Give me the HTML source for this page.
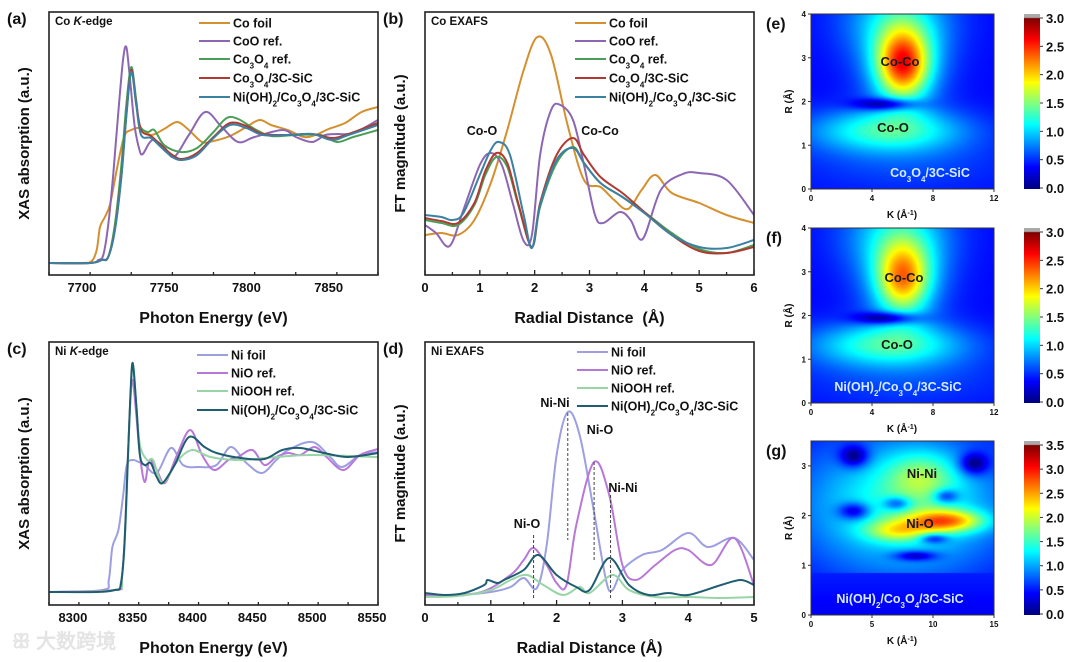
<!DOCTYPE html>
<html><head><meta charset="utf-8">
<style>
body{margin:0;background:#fff;width:1080px;height:662px;overflow:hidden;position:relative;font-family:"Liberation Sans",Arial,sans-serif}
svg{position:absolute;left:0;top:0;z-index:2}
canvas{position:absolute;z-index:1}
text{font-family:"Liberation Sans",Arial,sans-serif}
</style></head>
<body>
<svg id="fig" width="1080" height="662"></svg>
<canvas id="hmE" width="183" height="175" style="left:811px;top:14px"></canvas>
<canvas id="hmF" width="183" height="175" style="left:811px;top:228px"></canvas>
<canvas id="hmG" width="183" height="174" style="left:811px;top:441px"></canvas>
<canvas id="cbE" width="16" height="175" style="left:1024px;top:14px"></canvas>
<canvas id="cbF" width="16" height="175" style="left:1024px;top:228px"></canvas>
<canvas id="cbG" width="16" height="174" style="left:1024px;top:441px"></canvas>
<script>
// ---------- Panel (a) Co K-edge data ----------
const aCoFoilX=[7680,7700,7706,7709,7711,7714,7717,7720,7723,7726,7730,7735,7742,7750,7758,7765,7773,7780,7790,7800,7808,7815,7825,7835,7842,7850,7860,7870,7880];
const aCoFoilY=[12,12,14,25,48,58,70,95,120,140,145,147,140,146,153,145,133,134,139,148,155,150,145,138,140,146,152,163,168];
const aCoOX=[7680,7705,7710,7713,7716,7719,7722,7725,7727,7729,7732,7735,7737,7741,7744,7750,7756,7765,7775,7785,7795,7805,7822,7830,7840,7848,7855,7865,7880];
const aCoOY=[12,12,15,20,50,100,160,215,228,200,150,125,121,132,135,128,118,140,163,148,133,138,145,138,133,140,141,142,155];
const aCo3O4X=[7680,7705,7712,7716,7720,7724,7727,7730,7733,7735,7740,7744,7750,7760,7770,7780,7788,7795,7805,7815,7830,7845,7855,7865,7880];
const aCo3O4Y=[12,12,15,18,50,110,170,208,175,150,143,145,130,123,127,143,157,156,146,139,140,140,133,138,145];
const aCoSiCX=[7680,7705,7712,7716,7720,7724,7727,7730,7733,7736,7742,7748,7755,7761,7770,7780,7790,7800,7810,7825,7840,7852,7862,7880];
const aCoSiCY=[12,12,15,18,45,100,160,205,172,145,139,130,120,116,122,138,152,149,141,140,141,137,141,152];
const aNiCoSiCX=[7680,7705,7712,7716,7720,7724,7727,7730,7733,7736,7742,7748,7755,7761,7770,7780,7790,7800,7810,7825,7840,7852,7862,7880];
const aNiCoSiCY=[12,12,15,18,44,98,158,203,170,140,137,128,118,115,120,137,150,147,140,140,141,135,140,150];
// ---------- Panel (b) Co EXAFS data ----------
const bCoFoilX=[0,0.3,0.6,0.9,1.2,1.5,1.8,2.05,2.3,2.6,2.9,3.2,3.45,3.7,3.95,4.2,4.5,5.0,5.5,6.0];
const bCoFoilY=[40,42,40,55,92,145,205,238,220,150,95,88,75,66,85,100,82,72,60,52];
const bCoOX=[0,0.2,0.45,0.7,1.0,1.2,1.4,1.6,1.8,1.95,2.1,2.3,2.47,2.7,2.9,3.1,3.25,3.55,3.75,3.97,4.3,4.7,5.0,5.5,6.0];
const bCoOY=[50,42,29,65,110,122,110,72,34,40,120,165,170,155,110,60,52,63,55,36,85,101,102,95,60];
const bCo3O4X=[0,0.3,0.6,0.9,1.1,1.3,1.5,1.7,1.95,2.1,2.4,2.7,2.9,3.2,3.6,4.0,4.5,5.0,5.5,6.0];
const bCo3O4Y=[55,52,50,70,100,118,108,70,28,68,112,128,112,92,78,63,42,26,22,30];
const bCoSiCX=[0,0.3,0.6,0.9,1.1,1.3,1.5,1.7,1.95,2.1,2.4,2.7,2.9,3.2,3.6,4.0,4.5,5.0,5.5,6.0];
const bCoSiCY=[57,54,52,72,104,122,112,72,28,72,120,137,120,98,82,63,40,24,22,28];
const bNiCoSiCX=[0,0.3,0.5,0.7,1.0,1.2,1.35,1.55,1.8,1.95,2.1,2.4,2.7,2.9,3.2,3.6,4.0,4.5,5.0,5.5,6.0];
const bNiCoSiCY=[60,58,55,62,100,125,133,120,60,27,70,115,127,112,92,78,62,40,28,27,35];
// ---------- Panel (c) Ni K-edge data ----------
const cNiFoilX=[8280,8325,8330,8333,8338,8342,8345,8350,8355,8360,8370,8382,8392,8405,8420,8432,8445,8458,8470,8480,8500,8515,8525,8540,8555];
const cNiFoilY=[13,15,25,58,75,110,140,145,143,140,132,157,140,138,140,158,142,132,145,155,163,148,138,150,153];
const cNiOX=[8280,8335,8340,8343,8346,8348,8350,8353,8356,8360,8364,8370,8377,8387,8398,8408,8418,8430,8438,8450,8460,8470,8480,8490,8502,8512,8526,8540,8555];
const cNiOY=[13,15,22,60,150,205,225,190,150,123,145,135,122,150,175,150,135,145,148,155,140,148,152,150,158,148,135,150,156];
const cNiOOHX=[8280,8335,8341,8344,8347,8350,8353,8356,8362,8367,8375,8388,8400,8415,8440,8470,8500,8555];
const cNiOOHY=[13,15,30,80,180,240,200,160,145,145,122,145,155,148,145,148,150,148];
const cSampleX=[8280,8320,8335,8340,8343,8346,8348,8350,8353,8356,8360,8365,8370,8375,8385,8397,8410,8420,8440,8460,8475,8490,8510,8530,8555];
const cSampleY=[13,13,15,20,60,150,210,242,200,150,140,142,128,122,140,168,158,152,147,146,155,157,152,148,152];
// ---------- Panel (d) Ni EXAFS data ----------
const dNiFoilX=[0,0.5,1.0,1.3,1.5,1.7,1.85,2.0,2.17,2.35,2.55,2.75,2.85,3.0,3.3,3.6,4.0,4.3,4.7,5.0];
const dNiFoilY=[10,10,13,18,27,17,60,150,193,170,100,25,15,35,50,55,72,58,67,45];
const dNiOX=[0,0.8,1.3,1.5,1.65,1.85,2.0,2.15,2.3,2.57,2.8,3.0,3.2,3.5,3.8,4.0,4.35,4.7,5.0];
const dNiOY=[10,12,30,45,57,40,22,20,80,143,110,40,25,40,55,55,40,67,20];
const dNiOOHX=[0,0.5,1.0,1.3,1.55,1.8,2.1,2.35,2.5,2.85,3.1,3.5,4.0,4.5,5.0];
const dNiOOHY=[8,9,15,25,30,20,10,18,12,30,15,8,8,7,8];
const dSampleX=[0,0.3,0.6,0.9,0.95,1.1,1.2,1.5,1.72,2.0,2.3,2.5,2.8,3.1,3.4,3.7,4.0,4.5,4.8,5.0];
const dSampleY=[12,10,12,20,25,22,25,35,50,30,18,15,47,20,10,12,10,20,25,20];
// ---------- Wavelet heatmap components ----------
const eK=[5,6,6,6,5,5.5];const eR=[1.35,2.85,3.1,0.6,1.95,3.9];const eSk=[3.5,1.2,2.0,5,1.4,2.6];const eSr=[0.35,0.55,0.9,0.5,0.1,0.6];const eAmp=[0.9,1.7,0.6,0.2,-0.9,0.45];const eBase=0.4;
const fK=[5,6,6,6,5,5.5];const fR=[1.35,2.85,3.1,0.6,1.95,3.9];const fSk=[3.5,1.2,2.0,5,1.4,2.6];const fSr=[0.35,0.55,0.9,0.5,0.1,0.6];const fAmp=[0.9,1.35,0.6,0.2,-0.9,0.45];const fBase=0.4;
const gK=[7.5,11,7,9,3.5,13.3,3.5,7,11,10,8.5];const gR=[2.2,1.9,1.7,2.8,3.2,3.05,2.1,2.25,2.4,1.55,1.2];const gSk=[6,2.2,1.8,2.0,0.8,0.8,0.9,0.8,0.7,0.8,1.2];const gSr=[1.0,0.16,0.15,0.35,0.15,0.15,0.12,0.1,0.1,0.07,0.07];const gAmp=[1.1,1.6,0.9,0.7,-0.9,-0.9,-0.9,-0.8,-0.8,-0.8,-0.8];const gBase=0.4;

const NS='http://www.w3.org/2000/svg';
const svg=document.getElementById('fig');
function el(tag,attrs,parent){const e=document.createElementNS(NS,tag);for(const k in attrs)e.setAttribute(k,attrs[k]);(parent||svg).appendChild(e);return e;}
function txt(x,y,s,size,opts,parent){const t=el('text',Object.assign({x:x,y:y,'font-size':size,'font-weight':'bold',fill:'#111'},opts||{}),parent);t.innerHTML=s;return t;}
function smooth(pts){let d='M'+pts[0][0]+','+pts[0][1];for(let i=0;i<pts.length-1;i++){const p0=pts[Math.max(0,i-1)],p1=pts[i],p2=pts[i+1],p3=pts[Math.min(pts.length-1,i+2)];const c1x=p1[0]+(p2[0]-p0[0])/6,c1y=p1[1]+(p2[1]-p0[1])/6,c2x=p2[0]-(p3[0]-p1[0])/6,c2y=p2[1]-(p3[1]-p1[1])/6;d+=' C'+c1x.toFixed(1)+','+c1y.toFixed(1)+' '+c2x.toFixed(1)+','+c2y.toFixed(1)+' '+p2[0].toFixed(1)+','+p2[1].toFixed(1);}return d;}

function panel(cfg){
  const g=el('g',{});
  
  
  const sx=v=>cfg.L+(v-cfg.x0)/(cfg.x1-cfg.x0)*(cfg.R-cfg.L);
  const sy=v=>cfg.B-v/cfg.ymax*(cfg.B-cfg.T);
  const clip='clip-'+cfg.name;
  const cp=el('clipPath',{id:clip},g);el('rect',{x:cfg.L,y:cfg.T,width:cfg.R-cfg.L,height:cfg.B-cfg.T},cp);
  cfg.series.forEach(s=>{
    const pts=s.x.map((v,i)=>[sx(v),sy(s.y[i])]);
    const p=el('path',{d:smooth(pts),fill:'none',stroke:s.c,'stroke-width':s.w||2,'clip-path':'url(#'+clip+')'},g);
    
    
  });
  const fr=el('rect',{x:cfg.L,y:cfg.T,width:cfg.R-cfg.L,height:cfg.B-cfg.T,fill:'none',stroke:'#222','stroke-width':1.6},g);
  
  
  for(let v=cfg.x0;v<=cfg.x1+1e-9;v+=cfg.minor){
    const major=Math.abs(Math.round(v/cfg.major)*cfg.major-v)<1e-6;
    el('line',{x1:sx(v),x2:sx(v),y1:cfg.B,y2:cfg.B-(major?5:3),stroke:'#222','stroke-width':1.3},g);
  }
  cfg.ticks.forEach(v=>{const t=txt(sx(v),cfg.B+17,String(v),13,{'text-anchor':'middle'},g);});
  const xt=txt((cfg.L+cfg.R)/2,cfg.B+48,cfg.xtitle,16,{'text-anchor':'middle'},g);
  
  const yc=(cfg.T+cfg.B)/2;
  const yt=txt(cfg.L-20,yc,cfg.ytitle,15,{'text-anchor':'middle',transform:'rotate(-90 '+(cfg.L-20)+' '+yc+')'},g);
  
  const pl=txt(cfg.L-42,cfg.T+12,cfg.label,16,{},g);
  
  const st=txt(cfg.L+6,cfg.T+13,cfg.sub,11.5,{},g);
  
  cfg.series.forEach((s,i)=>{
    const y=cfg.legY[i];
    const lg=el('g',{},g);
    
    
    el('line',{x1:cfg.legX,x2:cfg.legX+31,y1:y,y2:y,stroke:s.c,'stroke-width':2},lg);
    txt(cfg.legX+34,y+4.5,s.lab,12.5,{},lg);
  });
  return {sx,sy,g};
}
const SUB=s=>'<tspan baseline-shift="sub" font-size="8">'+s+'</tspan>';
const co3o4='Co'+SUB('3')+'O'+SUB('4');
const nicocsic='Ni(OH)'+SUB('2')+'/'+co3o4+'/3C-SiC';
const cO='#d4902e',cP='#8d66b3',cG='#4a9e55',cR='#b03a32',cB='#3c80a2';

panel({name:'panel-a',L:49,R:378,T:12,B:275,x0:7680,x1:7880,ymax:263,major:50,minor:25,ticks:[7700,7750,7800,7850],
 xtitle:'Photon Energy (eV)',ytitle:'XAS absorption (a.u.)',label:'(a)',sub:'Co <tspan font-style="italic">K</tspan>-edge',legX:199,legY:[23,41,59,78,97],
 series:[{x:aCoFoilX,y:aCoFoilY,c:cO,n:'line-co-foil',lab:'Co foil'},{x:aCoOX,y:aCoOY,c:cP,n:'line-coo-ref',lab:'CoO ref.'},{x:aCo3O4X,y:aCo3O4Y,c:cG,n:'line-co3o4-ref',lab:co3o4+' ref.'},{x:aCoSiCX,y:aCoSiCY,c:cR,n:'line-co3o4-sic',lab:co3o4+'/3C-SiC'},{x:aNiCoSiCX,y:aNiCoSiCY,c:cB,n:'line-nioh-co3o4-sic',lab:nicocsic}]});
const pb=panel({name:'panel-b',L:425,R:754,T:12,B:275,x0:0,x1:6,ymax:263,major:1,minor:0.5,ticks:[0,1,2,3,4,5,6],
 xtitle:'Radial Distance&#160;&#160;(Å)',ytitle:'FT magnitude (a.u.)',label:'(b)',sub:'Co EXAFS',legX:575,legY:[23,41,59,78,97],
 series:[{x:bCoFoilX,y:bCoFoilY,c:cO,n:'line-co-foil',lab:'Co foil'},{x:bCoOX,y:bCoOY,c:cP,n:'line-coo-ref',lab:'CoO ref.'},{x:bCo3O4X,y:bCo3O4Y,c:cG,n:'line-co3o4-ref',lab:co3o4+' ref.'},{x:bCoSiCX,y:bCoSiCY,c:cR,n:'line-co3o4-sic',lab:co3o4+'/3C-SiC'},{x:bNiCoSiCX,y:bNiCoSiCY,c:cB,n:'line-nioh-co3o4-sic',lab:nicocsic}]});
txt(482,135,'Co-O',12.5,{'text-anchor':'middle'},pb.g);
txt(600,135,'Co-Co',12.5,{'text-anchor':'middle'},pb.g);
const nF='#9c9fe0',nO='#b878d8',nH='#98d4a6',nS='#1f5d70';
panel({name:'panel-c',L:49,R:378,T:342,B:605,x0:8280,x1:8555,ymax:263,major:50,minor:25,ticks:[8300,8350,8400,8450,8500,8550],
 xtitle:'Photon Energy (eV)',ytitle:'XAS absorption (a.u.)',label:'(c)',sub:'Ni <tspan font-style="italic">K</tspan>-edge',legX:197,legY:[355,373,391,410],
 series:[{x:cNiFoilX,y:cNiFoilY,c:nF,n:'line-ni-foil',lab:'Ni foil'},{x:cNiOX,y:cNiOY,c:nO,n:'line-nio-ref',lab:'NiO ref.'},{x:cNiOOHX,y:cNiOOHY,c:nH,n:'line-niooh-ref',lab:'NiOOH ref.'},{x:cSampleX,y:cSampleY,c:nS,n:'line-nioh-co3o4-sic',lab:nicocsic}]});
const pd=panel({name:'panel-d',L:425,R:754,T:342,B:605,x0:0,x1:5,ymax:263,major:1,minor:0.5,ticks:[0,1,2,3,4,5],
 xtitle:'Radial Distance (Å)',ytitle:'FT magnitude (a.u.)',label:'(d)',sub:'Ni EXAFS',legX:577,legY:[352,370,388,406],
 series:[{x:dNiFoilX,y:dNiFoilY,c:nF,n:'line-ni-foil',lab:'Ni foil'},{x:dNiOX,y:dNiOY,c:nO,n:'line-nio-ref',lab:'NiO ref.'},{x:dNiOOHX,y:dNiOOHY,c:nH,n:'line-niooh-ref',lab:'NiOOH ref.'},{x:dSampleX,y:dSampleY,c:nS,n:'line-nioh-co3o4-sic',lab:nicocsic}]});
[[1.65,535,598],[2.17,413,540],[2.57,462,560],[2.82,495,598]].forEach(a=>{
  const l=el('line',{x1:pd.sx(a[0]),x2:pd.sx(a[0]),y1:a[1],y2:a[2],stroke:'#444','stroke-width':1,'stroke-dasharray':'3,2'},pd.g);
  
});
txt(527,528,'Ni-O',12.5,{'text-anchor':'middle'},pd.g);
txt(555,407,'Ni-Ni',12.5,{'text-anchor':'middle'},pd.g);
txt(600,434,'Ni-O',12.5,{'text-anchor':'middle'},pd.g);
txt(623,492,'Ni-Ni',12.5,{'text-anchor':'middle'},pd.g);

// ---------- heatmaps ----------
function jet(t){const c=v=>Math.max(0,Math.min(1,v));
  const r=c(1.5-Math.abs(4*t-3)),g=c(1.5-Math.abs(4*t-2)),b=c(1.5-Math.abs(4*t-1));return [r*255,g*255,b*255];}
function heat(id,K,R,Sk,Sr,A,base,kmax,rmax,vmax,cut){
  const cv=document.getElementById(id),ctx=cv.getContext('2d'),W=cv.width,H=cv.height;
  const img=ctx.createImageData(W,H);
  for(let j=0;j<H;j++){const r=(H-j)/H*rmax;for(let i=0;i<W;i++){const k=i/W*kmax;let v=base;
    for(let n=0;n<K.length;n++){v+=A[n]*Math.exp(-((k-K[n])**2)/(2*Sk[n]**2)-((r-R[n])**2)/(2*Sr[n]**2));}
    if(cut&&r<cut)v=0.4+0.15*(r/cut);
    v=Math.max(0.05,Math.min(vmax,v));const c=jet(v/vmax);const o=(j*W+i)*4;img.data[o]=c[0];img.data[o+1]=c[1];img.data[o+2]=c[2];img.data[o+3]=255;}}
  ctx.putImageData(img,0,0);
}
function cbar(id){const cv=document.getElementById(id),ctx=cv.getContext('2d'),H=cv.height;
  for(let j=0;j<H;j++){const c=j<4?[170,170,170]:jet(1-(j-4)/(H-5));ctx.fillStyle='rgb('+c.map(Math.round).join(',')+')';ctx.fillRect(0,j,16,1);}}
heat('hmE',eK,eR,eSk,eSr,eAmp,eBase,12,4,3.1,0);
heat('hmF',fK,fR,fSk,fSr,fAmp,fBase,12,4,3.1,0);
heat('hmG',gK,gR,gSk,gSr,gAmp,gBase,15,3.5,3.6,0.85);
cbar('cbE');cbar('cbF');cbar('cbG');

function hmAxes(name,T,B,kticks,kmax,rticks,rmax,cbt,cbmax,label,labels,sample){
  const g=el('g',{});
  const L=811,Rr=994;
  el('rect',{x:L,y:T,width:Rr-L,height:B-T,fill:'none',stroke:'#333','stroke-width':1},g);
  kticks.forEach(v=>{const x=L+v/kmax*(Rr-L);el('line',{x1:x,x2:x,y1:B,y2:B+3,stroke:'#333'},g);txt(x,B+12,String(v),8,{'text-anchor':'middle'},g);});
  rticks.forEach(v=>{const y=B-v/rmax*(B-T);el('line',{x1:L-3,x2:L,y1:y,y2:y,stroke:'#333'},g);txt(L-5,y+3,String(v),8,{'text-anchor':'end'},g);});
  txt(902,B+29,'K (Å<tspan baseline-shift="super" font-size="7">-1</tspan>)',10,{'text-anchor':'middle'},g);
  const yc=(T+B)/2;txt(792,yc,'R (Å)',10,{'text-anchor':'middle',transform:'rotate(-90 792 '+yc+')'},g);
  txt(L-45,T+15,label,16,{},g);
  cbt.forEach(v=>{const y=B-1-v/cbmax*(B-T-5);el('line',{x1:1040,x2:1043,y1:y,y2:y,stroke:'#333'},g);txt(1046,y+5,v.toFixed(1),13,{},g);});
  labels.forEach(a=>{txt(a[0],a[1],a[2],13,{'text-anchor':'middle',fill:'#1a1a1a'},g);});
  txt(sample[0],sample[1],sample[2],12.5,{'text-anchor':'middle',fill:'#d6ecff','font-weight':'bold'},g);
}
hmAxes('panel-e-axes',14,189,[0,4,8,12],12,[0,1,2,3,4],4,[0,0.5,1,1.5,2,2.5,3],3.0,'(e)',[[900,66,'Co-Co'],[893,132,'Co-O']],[930,177,co3o4+'/3C-SiC']);
hmAxes('panel-f-axes',228,403,[0,4,8,12],12,[0,1,2,3,4],4,[0,0.5,1,1.5,2,2.5,3],3.0,'(f)',[[904,282,'Co-Co'],[897,349,'Co-O']],[898,391,nicocsic]);
hmAxes('panel-g-axes',441,615,[0,5,10,15],15,[0,1,2,3],3.5,[0,0.5,1,1.5,2,2.5,3,3.5],3.5,'(g)',[[922,478,'Ni-Ni'],[920,528,'Ni-O']],[900,603,nicocsic]);
const wm=txt(12,648,'ꕥ 大数跨境',20,{fill:'#e4e4e4','font-family':'"Liberation Sans","Noto Sans CJK SC",sans-serif'});

</script>
</body></html>
